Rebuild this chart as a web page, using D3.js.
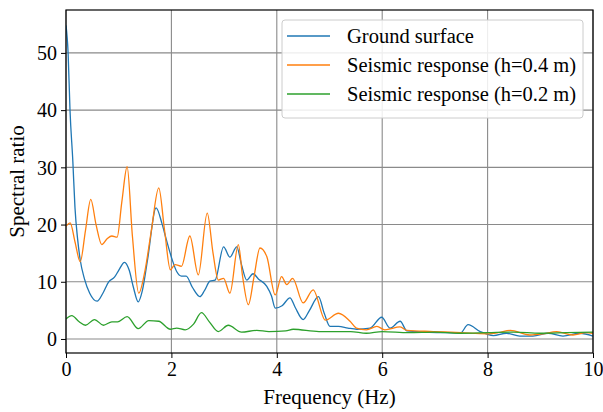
<!DOCTYPE html>
<html><head><meta charset="utf-8">
<script src="https://cdn.jsdelivr.net/npm/d3@7"></script>
<style>body{margin:0;background:#fff}svg{display:block}</style>
</head><body>
<svg id="chart" width="603" height="412"></svg>
<script>
const xTicks=[0,2,4,6,8,10];
const yTicks=[0,10,20,30,40,50];
const seriesNames=["Ground surface","Seismic response (h=0.4 m)","Seismic response (h=0.2 m)"];
const seriesColors=["#1f77b4","#ff7f0e","#2ca02c"];
const groundFreq=[0,0.04,0.076,0.13,0.17,0.22,0.27,0.35,0.45,0.59,0.7,0.81,0.92,1.0,1.11,1.2,1.28,1.37,1.45,1.55,1.71,1.82,1.9,2.01,2.1,2.19,2.28,2.4,2.54,2.63,2.73,2.83,2.99,3.11,3.24,3.33,3.43,3.55,3.65,3.81,3.9,3.97,4.1,4.25,4.35,4.5,4.62,4.79,4.9,5.01,5.17,5.35,5.52,5.77,5.99,6.15,6.34,6.47,6.8,7.2,7.48,7.63,7.86,8.11,8.36,8.61,8.86,9.15,9.43,9.75,10];
const groundVals=[54.8,50,40,31,23,17.5,13.8,10.5,8,6.6,8,10,10.8,12,13.4,12,9,6.5,8.5,14,22.9,20.2,17.5,14,11.8,11,11,9,7.4,8.5,10.1,10.3,16.1,14.3,16.1,13,10.3,11.4,10.5,9.2,7.5,5.4,5.8,7.2,5.5,3.4,5,7.4,4.5,2.2,2.2,1.9,1.7,1.9,3.8,1.9,3.1,1.4,1.2,1.1,1.0,2.5,1.3,0.6,1.0,0.5,0.5,1.0,0.5,1.0,0.5];
const h04Freq=[0,0.08,0.17,0.27,0.37,0.47,0.57,0.68,0.78,0.87,0.97,1.06,1.16,1.26,1.38,1.5,1.62,1.76,1.87,1.98,2.07,2.19,2.35,2.51,2.68,2.79,2.89,2.99,3.11,3.27,3.35,3.46,3.57,3.68,3.81,3.97,4.09,4.19,4.3,4.5,4.69,4.92,5.17,5.39,5.51,5.7,5.9,6.05,6.34,6.47,6.97,7.5,7.98,8.2,8.43,8.8,9.05,9.31,9.62,9.87,10];
const h04Vals=[19.7,20.3,17,13.5,19,24.4,20,16.5,17.5,18.0,17.8,24,30.1,18,8.0,12,19,26.4,19,12.1,13.0,12.7,18.0,11.2,22.0,15,10.3,10.6,8.0,16.5,11,6.0,11,15.9,14.4,7.7,10.9,9.5,10.6,6.3,8.6,3.3,4.5,3.1,1.9,1.6,2.2,1.6,2.1,1.5,1.3,1.1,0.9,1.1,1.5,0.7,0.9,1.3,0.7,1.1,1.0];
const h02Freq=[0,0.11,0.25,0.37,0.54,0.71,0.87,0.98,1.16,1.37,1.57,1.76,1.98,2.1,2.26,2.42,2.57,2.72,2.89,3.08,3.33,3.62,3.85,4.17,4.31,4.8,5.4,5.7,6.0,6.5,7.0,7.48,8.0,8.5,9.0,9.5,10];
const h02Vals=[3.5,4.1,3.0,2.4,3.4,2.4,3.0,3.0,3.9,1.8,3.2,3.1,1.7,1.9,1.6,2.6,4.6,3,1.3,2.4,1.2,1.5,1.3,1.4,1.7,1.3,1.3,1.0,1.3,1.1,1.2,1.0,1.1,1.2,1.0,1.1,1.2];

const W=603,H=412;
const m={left:66,right:10,top:10,bottom:59};
const svg=d3.select("#chart");
const x=d3.scaleLinear().domain([0,10]).range([m.left,W-m.right]);
const y=d3.scaleLinear().domain([-2.45,57.5]).range([H-m.bottom,m.top]);
const font="'Liberation Serif','Times New Roman',serif";

// grid
const g=svg.append("g");
g.selectAll(".gx").data(xTicks).join("line")
 .attr("x1",d=>x(d)).attr("x2",d=>x(d)).attr("y1",m.top).attr("y2",H-m.bottom)
 .attr("stroke","#8a8a8a").attr("stroke-width",1.1);
g.selectAll(".gy").data(yTicks).join("line")
 .attr("x1",m.left).attr("x2",W-m.right).attr("y1",d=>y(d)).attr("y2",d=>y(d))
 .attr("stroke","#8a8a8a").attr("stroke-width",1.1);

svg.append("clipPath").attr("id","clip").append("rect")
 .attr("x",m.left).attr("y",m.top).attr("width",W-m.left-m.right).attr("height",H-m.top-m.bottom);

const series=[[groundFreq,groundVals],[h04Freq,h04Vals],[h02Freq,h02Vals]];
const line=d3.line().x(d=>x(d[0])).y(d=>y(d[1])).curve(d3.curveMonotoneX);
const lines=svg.append("g").attr("clip-path","url(#clip)");
[2,0,1].forEach(i=>{});
series.forEach((s,i)=>{
  const pts=s[0].map((f,j)=>[f,s[1][j]]);
  lines.append("path").attr("d",line(pts)).attr("fill","none")
   .attr("stroke",seriesColors[i]).attr("stroke-width",1.3);
});

// axes
const xAxis=svg.append("g").attr("transform",`translate(0,${H-m.bottom})`)
 .call(d3.axisBottom(x).tickValues(xTicks).tickFormat(d3.format("d")).tickSizeOuter(0).tickSize(5).tickPadding(4));
const yAxis=svg.append("g").attr("transform",`translate(${m.left},0)`)
 .call(d3.axisLeft(y).tickValues(yTicks).tickFormat(d3.format("d")).tickSizeOuter(0).tickSize(5).tickPadding(4));
[xAxis,yAxis].forEach(a=>{
  a.select(".domain").remove();
  a.selectAll("text").attr("font-family",font).attr("font-size",20).attr("fill","#000");
  a.selectAll("line").attr("stroke","#000").attr("stroke-width",1);
});
yAxis.selectAll("text").attr("dy","0.34em");

// frame
svg.append("rect").attr("x",m.left).attr("y",m.top).attr("width",W-m.left-m.right).attr("height",H-m.top-m.bottom)
 .attr("fill","none").attr("stroke","#000").attr("stroke-width",1.2);

// labels
svg.append("text").attr("x",(m.left+W-m.right)/2).attr("y",404).attr("text-anchor","middle")
 .attr("font-family",font).attr("font-size",21).text("Frequency (Hz)");
svg.append("text").attr("transform",`translate(24,${(m.top+H-m.bottom)/2}) rotate(-90)`).attr("text-anchor","middle")
 .attr("font-family",font).attr("font-size",21).text("Spectral ratio");

// legend
const lg=svg.append("g");
lg.append("rect").attr("x",282).attr("y",20).attr("width",301).attr("height",98).attr("rx",3)
 .attr("fill","#fff").attr("fill-opacity",0.85).attr("stroke","#cccccc").attr("stroke-width",1);
seriesNames.forEach((n,i)=>{
  const yy=36+i*29;
  lg.append("line").attr("x1",287).attr("x2",330).attr("y1",yy).attr("y2",yy)
   .attr("stroke",seriesColors[i]).attr("stroke-width",1.3);
  lg.append("text").attr("x",347).attr("y",yy+7).attr("font-family",font).attr("font-size",20.5).text(n);
});
</script>
</body></html>
